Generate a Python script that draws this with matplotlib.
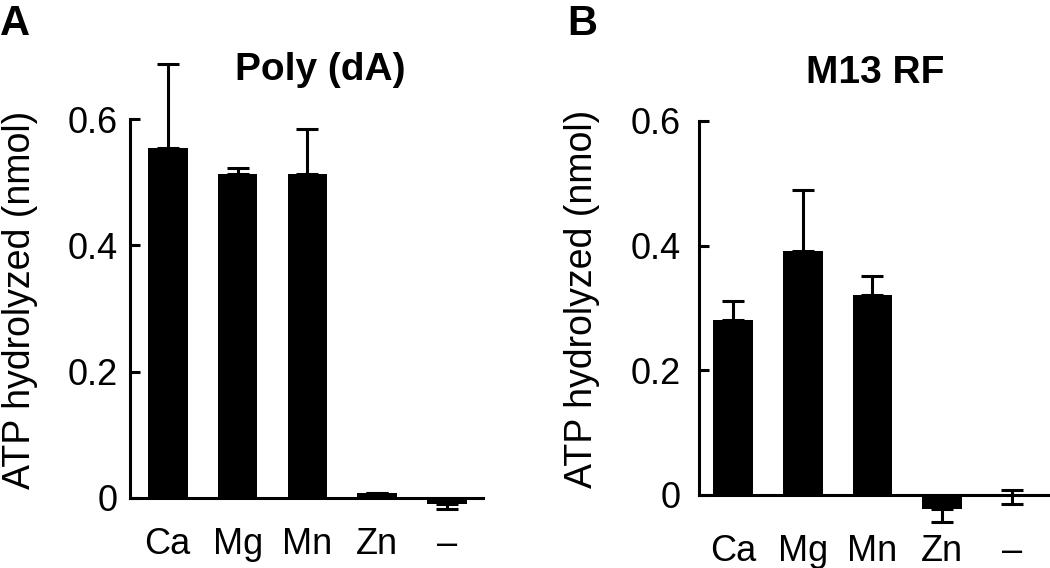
import numpy as np
import matplotlib
matplotlib.use('Agg')
from matplotlib import pyplot as plt

plt.rcParams['font.family'] = ['Liberation Sans', 'DejaVu Sans']

metals = ['Ca', 'Mg', 'Mn', 'Zn', '–']
ytick_vals = [0, 0.2, 0.4, 0.6]
ytick_labels = ['0', '0.2', '0.4', '0.6']

# panel A: poly(dA)
polyA = [0.555, 0.513, 0.513, 0.008, -0.010]
polyA_up = [0.133, 0.010, 0.071, 0.0, 0.0]
polyA_lo = [0.0, 0.0, 0.0, 0.0, 0.008]

# panel B: M13 RF
m13 = [0.281, 0.392, 0.321, -0.022, -0.003]
m13_up = [0.030, 0.098, 0.031, 0.0, 0.011]
m13_lo = [0.0, 0.0, 0.0, 0.021, 0.011]

fig = plt.figure(figsize=(10.5, 5.68), dpi=100)
axA = fig.add_axes([0.1238, 0.0123, 0.336, 0.889])
axB = fig.add_axes([0.6657, 0.0188, 0.3343, 0.878])


def draw(ax, vals, lo, up, xlim, ypad, xpad):
    x = np.arange(len(metals))
    ax.bar(x, vals, width=0.57, color='black', zorder=3)
    ax.errorbar(x, vals, yerr=[lo, up], fmt='none', ecolor='black',
                elinewidth=2.2, capsize=8, capthick=2.2, zorder=2, clip_on=False)
    ax.set_xlim(*xlim)
    ax.set_ylim(-0.1, 0.7)
    for s in ['top', 'right']:
        ax.spines[s].set_visible(False)
    ax.spines['left'].set_bounds(0, 0.6)
    ax.spines['bottom'].set_position(('data', 0))
    for s in ['left', 'bottom']:
        ax.spines[s].set_linewidth(2.2)
    ax.set_yticks(ytick_vals)
    ax.set_yticklabels(ytick_labels)
    ax.set_xticks(x)
    ax.set_xticklabels(metals)
    ax.tick_params(axis='y', direction='in', length=7, width=2.2, labelsize=26, pad=ypad)
    ax.tick_params(axis='x', length=0, labelsize=26, pad=xpad)
    ax.patch.set_visible(False)


draw(axA, polyA, polyA_lo, polyA_up, (-0.54, 4.51), 9, 21)
draw(axB, m13, m13_lo, m13_up, (-0.487, 4.545), 13, 28)

# y labels: anchored on the baseline so the glyphs sit where the reference has them
fig.text(30 / 1050, 1 - 300 / 568, 'ATP hydrolyzed (nmol)', rotation=90,
         rotation_mode='anchor', ha='center', va='baseline', fontsize=27)
fig.text(592 / 1050, 1 - 299 / 568, 'ATP hydrolyzed (nmol)', rotation=90,
         rotation_mode='anchor', ha='center', va='baseline', fontsize=27)

fig.text(320 / 1050, 1 - 80 / 568, 'Poly (dA)', ha='center', va='baseline',
         fontsize=28, fontweight='bold')
fig.text(875 / 1050, 1 - 83 / 568, 'M13 RF', ha='center', va='baseline',
         fontsize=28, fontweight='bold')

fig.text(0.0, 1 - 35 / 568, 'A', ha='left', va='baseline', fontsize=30, fontweight='bold')
fig.text(567 / 1050, 1 - 35 / 568, 'B', ha='left', va='baseline', fontsize=30, fontweight='bold')

fig.savefig('out.png', dpi=100)
